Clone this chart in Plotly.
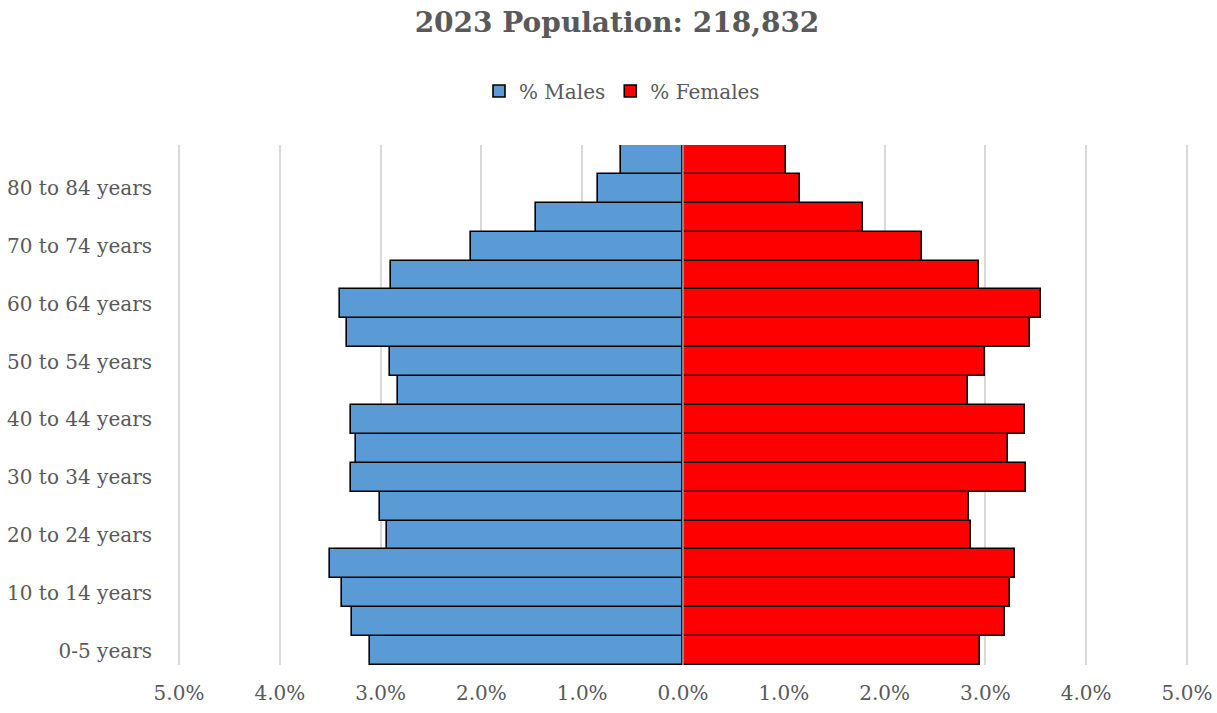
import plotly.graph_objects as go

age_groups = ["0-5 years", "5 to 9 years", "10 to 14 years", "15 to 19 years", "20 to 24 years",
              "25 to 29 years", "30 to 34 years", "35 to 39 years", "40 to 44 years", "45 to 49 years",
              "50 to 54 years", "55 to 59 years", "60 to 64 years", "65 to 69 years", "70 to 74 years",
              "75 to 79 years", "80 to 84 years", "85 years and over"]
males_pct = [3.11, 3.28, 3.38, 3.50, 2.94, 3.01, 3.29, 3.24, 3.29, 2.83,
             2.91, 3.33, 3.40, 2.90, 2.10, 1.46, 0.84, 0.62]
females_pct = [2.95, 3.19, 3.24, 3.29, 2.86, 2.84, 3.40, 3.22, 3.39, 2.83,
               3.00, 3.44, 3.55, 2.94, 2.37, 1.79, 1.16, 1.02]
shown_labels = ["0-5 years", "10 to 14 years", "20 to 24 years", "30 to 34 years", "40 to 44 years",
                "50 to 54 years", "60 to 64 years", "70 to 74 years", "80 to 84 years"]
x_ticks = [-5, -4, -3, -2, -1, 0, 1, 2, 3, 4, 5]
x_ticktext = ["5.0%", "4.0%", "3.0%", "2.0%", "1.0%", "0.0%", "1.0%", "2.0%", "3.0%", "4.0%", "5.0%"]

FONT = "DejaVu Serif"
GREY = "#595959"

fig = go.Figure()
fig.add_trace(go.Bar(
    y=age_groups, x=[-v for v in males_pct], orientation="h", name="% Males",
    marker=dict(color="#5B9BD5", line=dict(color="black", width=1.6)),
))
fig.add_trace(go.Bar(
    y=age_groups, x=females_pct, orientation="h", name="% Females",
    marker=dict(color="#FF0000", line=dict(color="black", width=1.6)),
))

fig.add_vline(x=0, line_color="#A6A6A6", line_width=1.5, layer="above")

fig.update_layout(
    width=1217, height=713,
    barmode="relative", bargap=0,
    paper_bgcolor="white", plot_bgcolor="white",
    margin=dict(l=177, r=28, t=145, b=48, autoexpand=False),
    font=dict(family=FONT, color=GREY, size=20),
    title=dict(text="<b>2023 Population: 218,832</b>", x=617 / 1217, xanchor="center",
               y=1 - 22 / 713, yanchor="middle", font=dict(size=28, color=GREY, family=FONT)),
    legend=dict(orientation="h", xref="container", x=622 / 1217, xanchor="center",
                y=1.0 + 54 / 520, yanchor="middle",
                font=dict(size=20, color=GREY), traceorder="normal"),
    showlegend=True,
)
fig.update_xaxes(
    range=[-5.02, 5.02], tickmode="array", tickvals=x_ticks, ticktext=x_ticktext,
    showgrid=True, gridcolor="#D9D9D9", gridwidth=1.5, zeroline=False,
    showline=False, ticks="", ticklabelstandoff=14, automargin=False,
    tickfont=dict(size=20, color=GREY, family=FONT),
)
fig.update_yaxes(
    type="category", categoryorder="array", categoryarray=age_groups,
    range=[-0.5, 17.5], tickmode="array", tickvals=shown_labels, ticktext=shown_labels,
    showgrid=False, zeroline=False, showline=False, ticks="", ticklabelstandoff=24,
    automargin=False,
    tickfont=dict(size=20, color=GREY, family=FONT),
)

fig.write_html("out.html", config={"displayModeBar": False},
               post_script="document.body.style.margin='0';")
